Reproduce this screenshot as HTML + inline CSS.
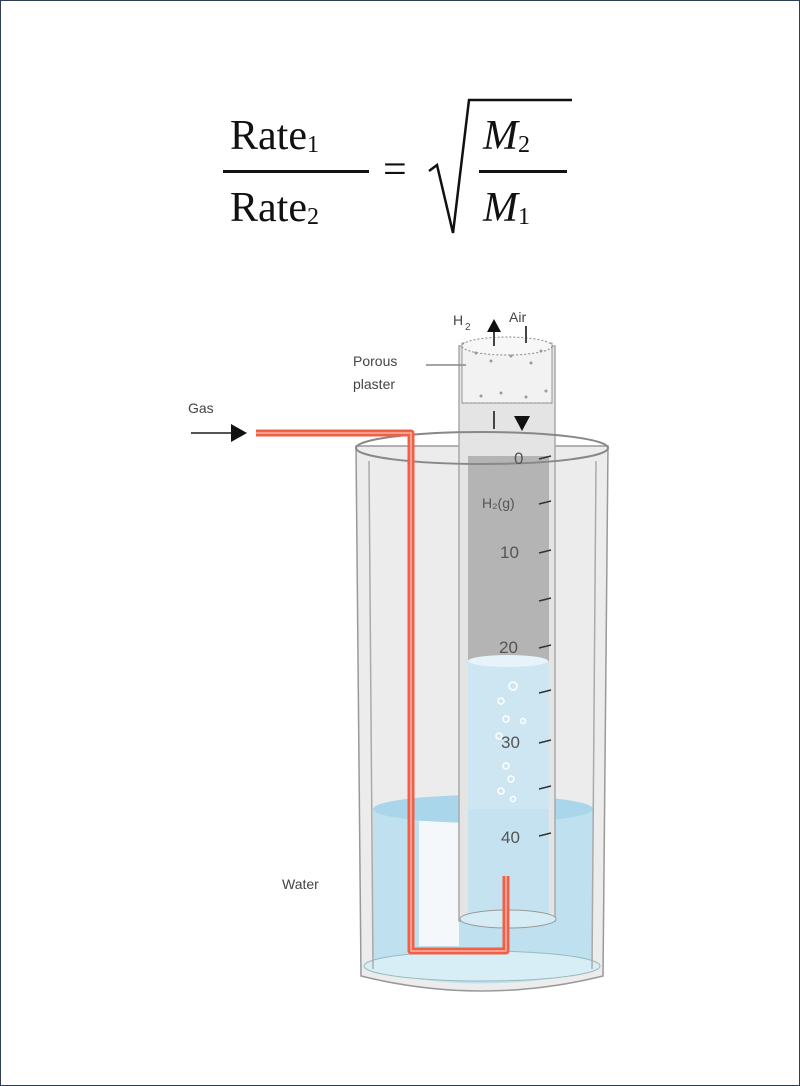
<!DOCTYPE html>
<html><head><meta charset="utf-8"><style>
html,body{margin:0;padding:0;background:#fff;}
.page{position:relative;width:798px;height:1084px;border:1px solid #2c3e50;background:#fff;overflow:hidden;}
.f{position:absolute;font-family:"Liberation Serif",serif;font-size:42px;color:#111;line-height:1;}
.f sub{font-size:24px;vertical-align:-3px;}
.mi{font-style:italic;}
</style></head><body><div class="page">
<div class="f" style="left:229px;top:114px;">Rate<sub>1</sub></div>
<div style="position:absolute;left:222px;top:169px;width:146px;height:3px;background:#111;"></div>
<div class="f" style="left:229px;top:186px;">Rate<sub>2</sub></div>
<div class="f" style="left:382px;top:148px;">=</div>
<svg style="position:absolute;left:0;top:0" width="800" height="1086">
<path d="M428 170 L436 164 L452 232 L468 99 L571 99" fill="none" stroke="#111" stroke-width="2.5"/>
</svg>
<div style="position:absolute;left:478px;top:169px;width:88px;height:3px;background:#111;"></div>
<div class="f mi" style="left:482px;top:114px;">M<sub style="font-style:normal">2</sub></div>
<div class="f mi" style="left:482px;top:186px;">M<sub style="font-style:normal">1</sub></div>

<svg style="position:absolute;left:0;top:0" width="800" height="1086" font-family="Liberation Sans, sans-serif">
<path d="M355 445 L360 975 Q481 1005 602 975 L607 445 Z" fill="#ececec" stroke="#999" stroke-width="1.5"/>
<path d="M372 808 L372 970 Q481 995 592 970 L592 808 Z" fill="#bfe0ee"/>
<rect x="418" y="820" width="40" height="125" fill="#f4f8fa"/>
<ellipse cx="482" cy="808" rx="110" ry="14" fill="#a9d6ea"/>
<ellipse cx="481" cy="965" rx="118" ry="15" fill="#d8eef7" stroke="#9bb" stroke-width="1"/>
<line x1="368" y1="460" x2="372" y2="968" stroke="#aaa" stroke-width="1.5"/>
<line x1="595" y1="460" x2="591" y2="968" stroke="#aaa" stroke-width="1.5"/>
<rect x="458" y="345" width="96" height="575" fill="#e4e4e4" stroke="#aaa" stroke-width="1.5"/>
<rect x="467" y="455" width="81" height="205" fill="#b4b4b4"/>
<rect x="467" y="660" width="81" height="148" fill="#cde6f2"/>
<ellipse cx="507" cy="660" rx="40" ry="6" fill="#e6f3fa"/>
<rect x="467" y="808" width="81" height="110" fill="#c4e2ef"/>
<ellipse cx="507" cy="918" rx="48" ry="9" fill="#d6ecf5" stroke="#999" stroke-width="1"/>
<g fill="none" stroke="#fff" stroke-width="1.5">
<circle cx="512" cy="685" r="4"/><circle cx="500" cy="700" r="3"/><circle cx="505" cy="718" r="3"/><circle cx="522" cy="720" r="2.5"/><circle cx="498" cy="735" r="3"/><circle cx="505" cy="765" r="3"/><circle cx="510" cy="778" r="3"/><circle cx="500" cy="790" r="3"/><circle cx="512" cy="798" r="2.5"/>
</g>
<ellipse cx="481" cy="447" rx="126" ry="16" fill="none" stroke="#888" stroke-width="2"/>
<rect x="461" y="342" width="90" height="60" fill="#f2f2f2" stroke="#999" stroke-width="1"/>
<ellipse cx="506" cy="345" rx="45" ry="9" fill="#f7f7f7" stroke="#888" stroke-width="1" stroke-dasharray="2 2"/>
<g fill="#999"><circle cx="475" cy="352" r="1.5"/><circle cx="490" cy="360" r="1.5"/><circle cx="510" cy="355" r="1.5"/><circle cx="530" cy="362" r="1.5"/><circle cx="540" cy="350" r="1.5"/><circle cx="480" cy="395" r="1.5"/><circle cx="500" cy="392" r="1.5"/><circle cx="525" cy="396" r="1.5"/><circle cx="545" cy="390" r="1.5"/></g>
<line x1="461" y1="402" x2="551" y2="402" stroke="#888" stroke-dasharray="2 2"/>
<line x1="493" y1="410" x2="493" y2="428" stroke="#444" stroke-width="2"/>
<path d="M513 415 L529 415 L521 430 Z" fill="#111"/>
<line x1="493" y1="330" x2="493" y2="345" stroke="#444" stroke-width="2"/>
<path d="M486 331 L500 331 L493 318 Z" fill="#111"/>
<line x1="525" y1="325" x2="525" y2="342" stroke="#444" stroke-width="2"/>
<line x1="425" y1="364" x2="465" y2="364" stroke="#888" stroke-width="1.5"/>
<g stroke="#333" stroke-width="1.5">
<line x1="538" y1="458" x2="550" y2="455"/><line x1="538" y1="503" x2="550" y2="500"/><line x1="538" y1="552" x2="550" y2="549"/><line x1="538" y1="600" x2="550" y2="597"/><line x1="538" y1="647" x2="550" y2="644"/><line x1="538" y1="692" x2="550" y2="689"/><line x1="538" y1="742" x2="550" y2="739"/><line x1="538" y1="788" x2="550" y2="785"/><line x1="538" y1="835" x2="550" y2="832"/>
</g>
<g font-size="17" fill="#555">
<text x="513" y="463">0</text><text x="481" y="507" font-size="14">H₂(g)</text><text x="499" y="557">10</text><text x="498" y="652">20</text><text x="500" y="747">30</text><text x="500" y="842">40</text>
</g>
<path d="M255 432 L410 432 L410 950 L505 950 L505 875" fill="none" stroke="#f06048" stroke-width="7" stroke-linejoin="round"/>
<path d="M255 432 L410 432 L410 950 L505 950 L505 875" fill="none" stroke="#f7a090" stroke-width="2" stroke-linejoin="round"/>
<g font-size="14" fill="#444">
<text x="452" y="324">H</text><text x="464" y="329" font-size="10">2</text>
<text x="508" y="321">Air</text>
<text x="352" y="365">Porous</text><text x="352" y="388">plaster</text>
<text x="187" y="412">Gas</text>
<text x="281" y="888">Water</text>
</g>
<line x1="190" y1="432" x2="232" y2="432" stroke="#555" stroke-width="2"/>
<path d="M230 423 L246 432 L230 441 Z" fill="#111"/>
</svg>
</div></body></html>
